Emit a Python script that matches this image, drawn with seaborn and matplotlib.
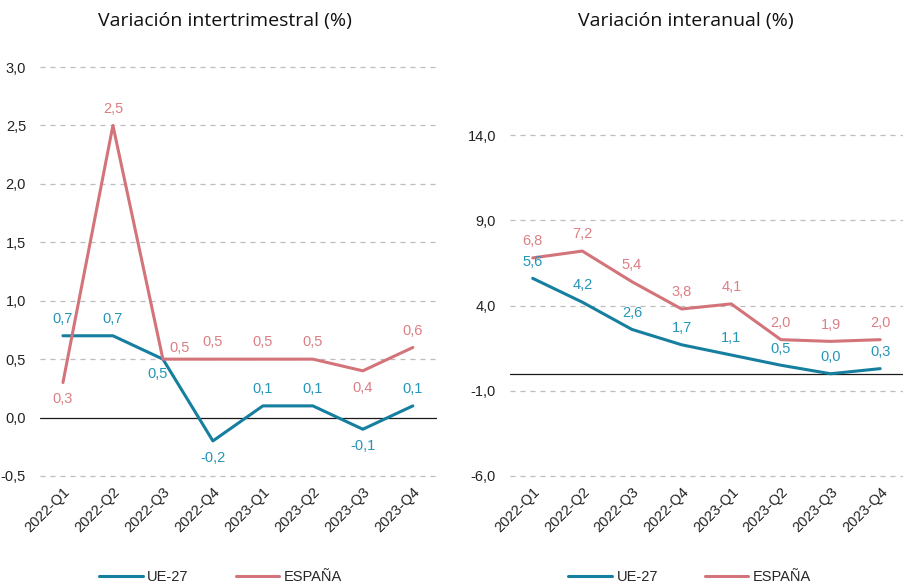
"""Variación del PIB: UE-27 vs España, intertrimestral e interanual."""

import matplotlib

matplotlib.use("Agg")

import pandas as pd
import seaborn as sns
from matplotlib import pyplot as plt
from matplotlib.lines import Line2D

trimestres = ["2022-Q1", "2022-Q2", "2022-Q3", "2022-Q4",
              "2023-Q1", "2023-Q2", "2023-Q3", "2023-Q4"]
ue_qoq = [0.7, 0.7, 0.5, -0.2, 0.1, 0.1, -0.1, 0.1]
es_qoq = [0.3, 2.5, 0.5, 0.5, 0.5, 0.5, 0.4, 0.6]
ue_yoy = [5.6, 4.2, 2.6, 1.7, 1.1, 0.5, 0.0, 0.3]
es_yoy = [6.8, 7.2, 5.4, 3.8, 4.1, 2.0, 1.9, 2.0]

qoq_ticks = [-0.5, 0.0, 0.5, 1.0, 1.5, 2.0, 2.5, 3.0]
yoy_ticks = [-6.0, -1.0, 4.0, 9.0, 14.0]

COLORS = {"UE-27": "#167f9f", "ESPAÑA": "#d3747a"}
LABEL_COLORS = {"UE-27": "#2495b8", "ESPAÑA": "#dc7f85"}

# label placement for the quarterly panel
ue_qoq_pos = ["up", "up", "downleft", "down", "up", "up", "down", "up"]
es_qoq_pos = ["down", "up", "upright", "up", "up", "up", "down", "up"]

FS = 10.5


def long_frame(ue, es):
    return pd.DataFrame(
        {
            "trimestre": trimestres * 2,
            "valor": ue + es,
            "serie": ["UE-27"] * len(ue) + ["ESPAÑA"] * len(es),
        }
    )


def fmt(v):
    return f"{v:.1f}".replace(".", ",")


def draw_panel(ax, frame, ticks, ylim, title, title_x, positions):
    sns.lineplot(
        data=frame, x="trimestre", y="valor", hue="serie",
        palette=COLORS, linewidth=2.2, sort=False, legend=False, ax=ax,
    )
    ax.set_ylim(*ylim)
    ax.set_xlim(-0.46, 7.48)
    ax.set_yticks(ticks)
    ax.set_yticklabels([fmt(t) for t in ticks], fontsize=FS, color="#222222")
    ax.grid(False)
    for t in ticks:
        if t != 0:
            ax.axhline(t, linestyle=(0, (4, 4)), color="#bdbdbd",
                       linewidth=0.9, zorder=0, clip_on=False)
    ax.axhline(0, color="#1a1a1a", linewidth=0.9, zorder=1)
    for s in ax.spines.values():
        s.set_visible(False)
    ax.tick_params(axis="both", length=0, pad=6)
    ax.tick_params(axis="y", pad=10)
    ax.set_xticks(range(len(trimestres)))
    ax.set_xticklabels(trimestres, rotation=45, ha="right",
                       rotation_mode="anchor", fontsize=FS, color="#222222")
    ax.set_xlabel("")
    ax.set_ylabel("")

    offsets = {"up": (0, 7, "bottom"), "down": (0, -7, "top"),
               "upright": (12, 3, "bottom"), "downleft": (-4, -6, "top")}
    for serie, sub in frame.groupby("serie", sort=False):
        pos = positions[serie]
        for i, v in enumerate(sub["valor"].tolist()):
            dx, dy, va = offsets[pos[i]]
            ax.annotate(fmt(v), (i, v), xytext=(dx, dy),
                        textcoords="offset points", ha="center", va=va,
                        fontsize=FS, color=LABEL_COLORS[serie])

    ax.figure.text(title_x, 0.965, title, ha="center", va="center",
                   fontsize=14, family="Open Sans", color="#111111")


sns.set_theme(style="white")
plt.rcParams["font.family"] = ["Liberation Sans", "DejaVu Sans"]

fig = plt.figure(figsize=(9.04, 5.88), dpi=100)
ax1 = fig.add_axes([0.0442, 0.1905, 0.439, 0.6955])
ax2 = fig.add_axes([0.564, 0.1905, 0.436, 0.6955])

draw_panel(ax1, long_frame(ue_qoq, es_qoq), qoq_ticks, (-0.5, 3.0),
           "Variación intertrimestral (%)", 0.249,
           {"UE-27": ue_qoq_pos, "ESPAÑA": es_qoq_pos})
draw_panel(ax2, long_frame(ue_yoy, es_yoy), yoy_ticks, (-6.0, 18.0),
           "Variación interanual (%)", 0.759,
           {"UE-27": ["up"] * 8, "ESPAÑA": ["up"] * 8})

handles = [Line2D([], [], color=COLORS[k], linewidth=2.2) for k in COLORS]
for cx in (0.244, 0.763):
    fig.legend(handles, list(COLORS), loc="center", bbox_to_anchor=(cx, 0.018),
               ncol=2, frameon=False, fontsize=FS, handlelength=3.0,
               columnspacing=3.2, handletextpad=0.3)

fig.savefig("out.png", dpi=100)
